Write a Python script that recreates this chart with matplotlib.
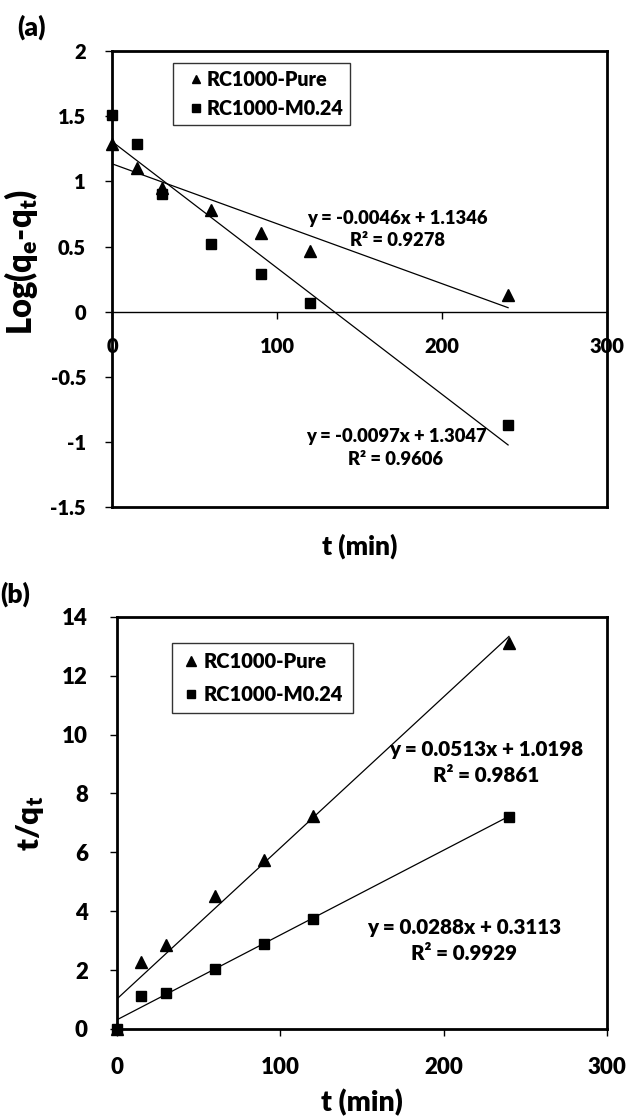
#!/usr/bin/env python3
"""Pseudo-first-order (a) and pseudo-second-order (b) kinetic plots."""

import matplotlib
matplotlib.use("Agg")
import matplotlib.pyplot as plt

WEIGHT = "heavy"
plt.rcParams["font.family"] = ["Lato", "DejaVu Sans"]
plt.rcParams["font.weight"] = WEIGHT
plt.rcParams["axes.labelweight"] = WEIGHT
plt.rcParams["axes.unicode_minus"] = False
plt.rcParams["mathtext.default"] = "regular"

# contact time (min)
T = [0, 15, 30, 60, 90, 120, 240]

# (a) log(qe - qt)
LOG_PURE = [1.29, 1.105, 0.946, 0.784, 0.605, 0.465, 0.127]
LOG_M024 = [1.51, 1.29, 0.905, 0.519, 0.292, 0.068, -0.873]
FIT_A_PURE = (-0.0046, 1.1346, 0.9278)
FIT_A_M024 = (-0.0097, 1.3047, 0.9606)

# (b) t / qt
TQ_PURE = [0.0, 2.29, 2.84, 4.50, 5.75, 7.22, 13.11]
TQ_M024 = [0.0, 1.12, 1.22, 2.03, 2.89, 3.74, 7.21]
FIT_B_PURE = (0.0513, 1.0198, 0.9861)
FIT_B_M024 = (0.0288, 0.3113, 0.9929)

LABELS = ["RC1000-Pure", "RC1000-M0.24"]
X_TICKS = [0, 100, 200, 300]
Y_TICKS_A = [-1.5, -1, -0.5, 0, 0.5, 1, 1.5, 2]
Y_TICKS_B = [0, 2, 4, 6, 8, 10, 12, 14]


def fit_line(fit, x_start=0, x_end=240):
    slope, intercept, _ = fit
    xs = [x_start, x_end]
    return xs, [slope * x + intercept for x in xs]


def fit_text(fit):
    slope, intercept, r2 = fit
    sign = "+" if intercept >= 0 else "-"
    return f"y = {slope:.4f}x {sign} {abs(intercept):.4f}\nR\u00b2 = {r2:.4f}"


def style_axis(axis, yticks, fs, xpad, ypad):
    for spine in axis.spines.values():
        spine.set_linewidth(2.0)
    axis.set_xlim(0, 300)
    axis.set_ylim(yticks[0], yticks[-1])
    axis.set_xticks(X_TICKS)
    axis.set_xticklabels([str(v) for v in X_TICKS], fontweight=WEIGHT)
    axis.set_yticks(yticks)
    axis.set_yticklabels([f"{v:g}" for v in yticks], fontweight=WEIGHT)
    axis.tick_params(axis="both", direction="out", length=5, width=1.0,
                     labelsize=fs)
    axis.tick_params(axis="x", pad=xpad)
    axis.tick_params(axis="y", pad=ypad)


fig = plt.figure(figsize=(6.31, 11.2), dpi=100)

# ---------------- (a) ----------------
ax_a = fig.add_axes([0.178, 0.5473, 0.784, 0.407])
style_axis(ax_a, Y_TICKS_A, 14.5, 13, 14)
ax_a.spines["bottom"].set_position(("data", 0))
ax_a.spines["bottom"].set_linewidth(1.0)
ax_a.plot([0, 1], [0, 0], transform=ax_a.transAxes, color="black",
          lw=2.0, clip_on=False, solid_capstyle="projecting")

for xs, ys in (fit_line(FIT_A_PURE), fit_line(FIT_A_M024)):
    ax_a.plot(xs, ys, color="black", lw=0.9, zorder=2)
ax_a.plot(T, LOG_PURE, "^", color="black", ms=8, label=LABELS[0],
          clip_on=False, zorder=3)
ax_a.plot(T, LOG_M024, "s", color="black", ms=7, label=LABELS[1],
          clip_on=False, zorder=3)

ax_a.text(173, 0.63, fit_text(FIT_A_PURE), ha="center", va="center",
          fontsize=13.2, linespacing=1.4)
ax_a.text(172, -1.047, fit_text(FIT_A_M024), ha="center", va="center",
          fontsize=13.2, linespacing=1.4)

ax_a.set_ylabel("Log(q$_e$-q$_t$)", fontsize=23.5)
ax_a.yaxis.set_label_coords(-0.146, 0.537)
ax_a.set_xlabel("t (min)", fontsize=19)
ax_a.xaxis.set_label_coords(0.5, -0.058)
leg = ax_a.legend(loc="upper left", bbox_to_anchor=(0.122, 0.974),
                  borderaxespad=0, fontsize=14.2, frameon=True,
                  fancybox=False, edgecolor="black", handlelength=1.7,
                  handletextpad=-0.35, borderpad=0.35, labelspacing=0.5,
                  markerscale=0.8)
leg.get_frame().set_linewidth(1.0)
fig.text(0.027, 0.976, "(a)", fontsize=19, va="center", ha="left")

# ---------------- (b) ----------------
ax_b = fig.add_axes([0.1854, 0.0813, 0.7765, 0.368])
style_axis(ax_b, Y_TICKS_B, 16, 15, 16)

for xs, ys in (fit_line(FIT_B_PURE), fit_line(FIT_B_M024)):
    ax_b.plot(xs, ys, color="black", lw=0.9, zorder=2)
ax_b.plot(T, TQ_PURE, "^", color="black", ms=8.5, label=LABELS[0],
          clip_on=False, zorder=3)
ax_b.plot(T, TQ_M024, "s", color="black", ms=7.5, label=LABELS[1],
          clip_on=False, zorder=3)

ax_b.text(226, 9.04, fit_text(FIT_B_PURE), ha="center", va="center",
          fontsize=14.9, linespacing=1.45)
ax_b.text(212.5, 3.01, fit_text(FIT_B_M024), ha="center", va="center",
          fontsize=14.9, linespacing=1.45)

ax_b.set_ylabel("t/q$_t$", fontsize=22.5)
ax_b.yaxis.set_label_coords(-0.145, 0.5)
ax_b.set_xlabel("t (min)", fontsize=20.5)
ax_b.xaxis.set_label_coords(0.5, -0.145)
leg = ax_b.legend(loc="upper left", bbox_to_anchor=(0.112, 0.937),
                  borderaxespad=0, fontsize=14.5, frameon=True,
                  fancybox=False, edgecolor="black", handlelength=1.0,
                  handletextpad=0.15, borderpad=0.45, labelspacing=0.7,
                  markerscale=0.8)
leg.get_frame().set_linewidth(1.0)
fig.text(0.0, 0.4696, "(b)", fontsize=19, va="center", ha="left")

fig.savefig("out.png", dpi=100)
